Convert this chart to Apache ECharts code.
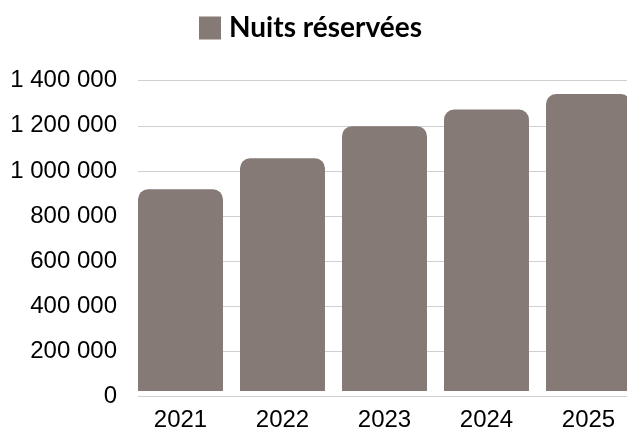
<!DOCTYPE html>
<html><head><meta charset="utf-8">
<script src="https://cdn.jsdelivr.net/npm/echarts@6/dist/echarts.min.js"></script>
<style>html,body{margin:0;padding:0;background:#fff;overflow:hidden}#c{width:640px;height:432px}</style>
</head><body><div id="c"></div>
<script>
const categories = ['2021', '2022', '2023', '2024', '2025'];
const nights = [910000, 1050000, 1195000, 1270000, 1340000];
const seriesName = 'Nuits réservées';
const yTicks = { min: 0, max: 1400000, interval: 200000 };

const chart = echarts.init(document.getElementById('c'), null, { renderer: 'canvas' });
const fmt = v => String(v).replace(/\B(?=(\d{3})+(?!\d))/g, ' ');
const yTop = 80.7, yBottom = 396.5;
chart.setOption({
  animation: false,
  legend: {
    top: 14, left: 199, padding: 0,
    itemWidth: 22, itemHeight: 23, icon: 'rect', itemGap: 10,
    textStyle: { fontFamily: 'Lato', fontWeight: 'bold', fontSize: 28, color: '#000', padding: [0, 0, 0, 3] },
    data: [seriesName]
  },
  grid: [
    { left: 138, right: 0, top: yTop, bottom: 432 - yBottom, containLabel: false },
    { left: 129.5, right: 0.5, top: yTop, bottom: 432 - yBottom, containLabel: false }
  ],
  xAxis: [
    { gridIndex: 0, type: 'category', data: categories, show: false },
    { gridIndex: 1, type: 'category', data: categories,
      axisLine: { show: false }, axisTick: { show: false },
      axisLabel: { fontFamily: 'Liberation Sans', fontSize: 24, color: '#000', margin: 17 } }
  ],
  yAxis: [
    { gridIndex: 0, type: 'value', min: yTicks.min, max: yTicks.max, interval: yTicks.interval,
      axisLine: { show: false }, axisTick: { show: false },
      splitLine: { lineStyle: { color: '#d0d0d0', width: 1 } },
      axisLabel: { fontFamily: 'Liberation Sans', fontSize: 24, color: '#000', margin: 21, formatter: fmt } },
    { gridIndex: 1, type: 'value', min: yTicks.min, max: yTicks.max, interval: yTicks.interval, show: false,
      splitLine: { show: false } }
  ],
  series: [{
    name: seriesName, type: 'bar', xAxisIndex: 1, yAxisIndex: 1,
    data: nights, barCategoryGap: '16.7%',
    itemStyle: { color: '#857a75', borderRadius: [10, 10, 0, 0] }
  }]
});
</script></body></html>
